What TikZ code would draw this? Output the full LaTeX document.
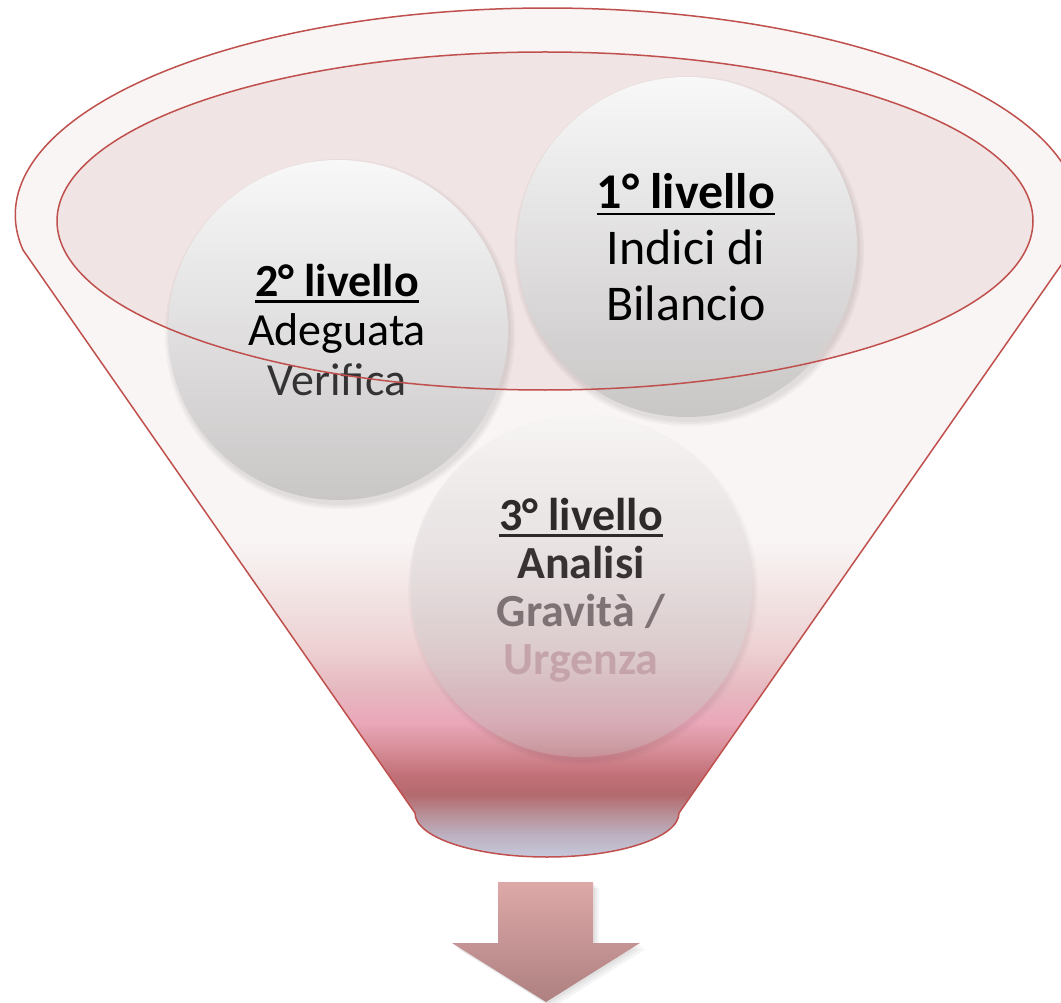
\documentclass[tikz,border=0pt]{standalone}
\usepackage{fontspec}
\setmainfont{Carlito}
\usetikzlibrary{fadings}
\definecolor{fred}{HTML}{C0504D}
\definecolor{rim}{HTML}{F9F5F5}
\definecolor{inell}{HTML}{F1E4E4}
\definecolor{bA}{HTML}{F2E2E2}
\definecolor{bB}{HTML}{EDD0D2}
\definecolor{bC}{HTML}{E6B8C0}
\definecolor{bD}{HTML}{EAA8BA}
\definecolor{bE}{HTML}{D8909A}
\definecolor{bF}{HTML}{C27078}
\definecolor{bG}{HTML}{B46A6E}
\definecolor{bH}{HTML}{B89098}
\definecolor{bI}{HTML}{BCB0C0}
\definecolor{bJ}{HTML}{CCD6EA}
\definecolor{ctop}{HTML}{F8F8F8}
\definecolor{cbot}{HTML}{C9C6C6}
\definecolor{c3top}{HTML}{F8F5F5}
\definecolor{c3bot}{HTML}{CFC4C6}
\definecolor{arrtop}{HTML}{DDA8A8}
\definecolor{arrbot}{HTML}{AE8080}
\definecolor{tA}{HTML}{2E2A2A}
\definecolor{tB}{HTML}{383232}
\definecolor{tC}{HTML}{7E7274}
\definecolor{tD}{HTML}{C4A4AA}
\definecolor{tV}{HTML}{333333}
\tikzfading[name=circfade, top color=transparent!0, bottom color=transparent!70]
\newcommand\ulbox[1]{\setbox0\hbox{#1}\rlap{\rule[-0.14em]{\wd0}{0.055em}}\box0}
\def\funnelpath{(23,250) arc[start angle=170.27, end angle=369.73, x radius=532, y radius=207] -- (679,813) arc[start angle=0, end angle=180, x radius=132, y radius=44] -- cycle}
\tikzset{
  ballshade/.style={top color=ctop, bottom color=cbot},
  txtA/.style={align=center, font={\fontsize{50}{56}\selectfont}},
  txtB/.style={align=center, font={\fontsize{46}{49.5}\selectfont}},
  txtC/.style={align=center, font={\fontsize{46}{48}\selectfont\bfseries}},
}
\begin{document}
\begin{tikzpicture}[x=1pt, y=-1pt]
\useasboundingbox (0,0) rectangle (1061,1003);
\fill[white] (0,0) rectangle (1061,1003);
% funnel body
\begin{scope}
\clip \funnelpath;
\fill[rim] (0,0) rectangle (1100,541);
\shade[top color=rim, bottom color=bA] (0,540) rectangle (1100,600);
\shade[top color=bA, bottom color=bB] (0,599.5) rectangle (1100,650);
\shade[top color=bB, bottom color=bC] (0,649.5) rectangle (1100,690);
\shade[top color=bC, bottom color=bD] (0,689.5) rectangle (1100,722);
\shade[top color=bD, bottom color=bE] (0,721.5) rectangle (1100,748);
\shade[top color=bE, bottom color=bF] (0,747.5) rectangle (1100,775);
\shade[top color=bF, bottom color=bG] (0,774.5) rectangle (1100,795);
\shade[top color=bG, bottom color=bH] (0,794.5) rectangle (1100,815);
\shade[top color=bH, bottom color=bI] (0,814.5) rectangle (1100,835);
\shade[top color=bI, bottom color=bJ] (0,834.5) rectangle (1100,870);
\end{scope}
\draw[fred, line width=1.5] \funnelpath;
% inner ellipse fill
\fill[inell] (545,221) ellipse [x radius=488, y radius=169];
% circle 3
\foreach \r in {175,173,171} \fill[black, opacity=0.02] (583,590) circle (\r);
\shade[top color=c3top, bottom color=c3bot, path fading=circfade] (581,586) circle (171);
\node[txtC] (t3) at (581,590) {\textcolor{tA}{\ulbox{3° livello}}\\ \textcolor{tB}{Analisi}\\ \textcolor{tC}{Gravità /}\\ \textcolor{tD}{Urgenza}};
% circle 2
\foreach \r in {175,173,171} \fill[black, opacity=0.03] (340,334) circle (\r);
\shade[ballshade] (338,330) circle (170);
\node[txtB] (t2) at (337,330) {\ulbox{\bfseries 2° livello}\\ Adeguata\\ \textcolor{tV}{Verifica}};
% circle 1
\foreach \r in {175,173,171} \fill[black, opacity=0.03] (689,251) circle (\r);
\shade[ballshade] (687,247) circle (170);
\node[txtA] (t1) at (686,247) {\ulbox{\bfseries 1° livello}\\ Indici di\\ Bilancio};
% inner ellipse outline
\draw[fred, line width=1.5] (545,221) ellipse [x radius=488, y radius=169];
% arrow
\foreach \d in {2,4,6} \fill[black, opacity=0.04] (498+\d,882+\d) -- (593+\d,882+\d) -- (593+\d,943+\d) -- (640+\d,943+\d) -- (546+\d,1002+\d) -- (452+\d,943+\d) -- (498+\d,943+\d) -- cycle;
\shade[top color=arrtop, bottom color=arrbot] (498,882) -- (593,882) -- (593,943) -- (640,943) -- (546,1002) -- (452,943) -- (498,943) -- cycle;
\end{tikzpicture}
\end{document}
